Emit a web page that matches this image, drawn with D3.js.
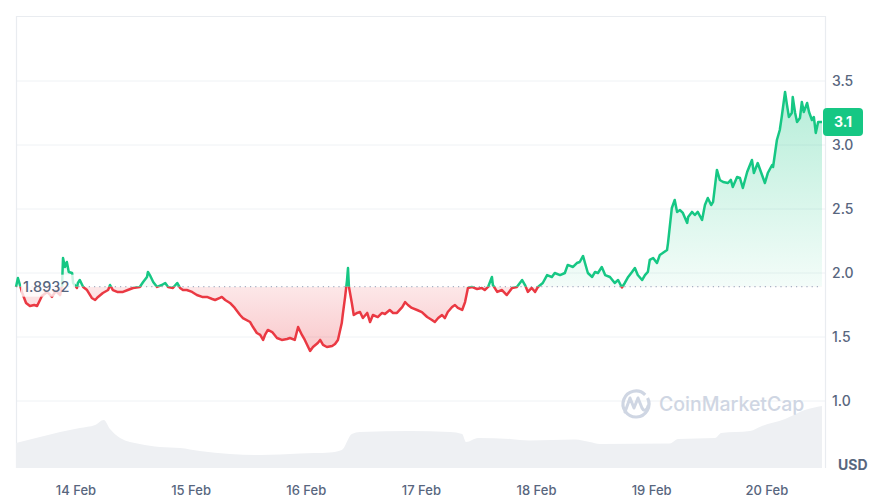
<!DOCTYPE html>
<html>
<head>
<meta charset="utf-8">
<script src="https://cdn.jsdelivr.net/npm/d3@7/dist/d3.min.js"></script>
<style>
  html, body { margin: 0; padding: 0; background: #ffffff; }
  svg { display: block; font-family: Inter, "Noto Sans", sans-serif; }
</style>
</head>
<body>
<svg id="chart" width="886" height="501"></svg>
<script>
// ---------- DATA ----------
const startTime = "2023-02-13T11:30:00Z";   // first sample
const spanHours = 168;
const baselinePrice = 1.8932;
const lastPriceLabel = "3.1";
const yTickValues = [1.0, 1.5, 2.0, 2.5, 3.0, 3.5];
const xTickDates = ["2023-02-14", "2023-02-15", "2023-02-16", "2023-02-17", "2023-02-18", "2023-02-19", "2023-02-20"];
const xTickLabels = ["14 Feb", "15 Feb", "16 Feb", "17 Feb", "18 Feb", "19 Feb", "20 Feb"];

// price samples: hours since start, price in USD
const hours = [0,0.4,1.3,2.1,2.9,3.8,4.4,5.4,6.5,7.5,8.3,9.2,9.6,9.8,10.2,10.6,11.0,11.7,11.9,12.7,12.9,13.3,14.0,14.8,15.8,16.5,17.1,18.1,19.2,19.6,20.2,21.1,22.3,23.3,24.4,25.8,26.5,27.3,27.5,27.9,28.6,29.4,30.4,31.1,31.7,32.7,33.6,34.2,34.8,35.6,36.7,37.7,38.8,39.8,40.9,41.5,42.5,42.9,43.6,44.6,45.6,46.7,47.3,48.8,49.4,50.2,50.9,51.5,51.9,52.5,53.4,54.4,55.4,56.5,57.1,58.1,58.8,59.6,60.2,60.9,61.3,61.9,62.9,63.4,64.0,64.8,65.9,66.5,67.1,67.9,68.1,68.6,69.0,69.2,69.4,70.0,70.4,71.1,71.7,72.3,73.2,73.8,74.4,75.4,76.3,76.9,77.9,78.6,79.4,80.5,81.1,81.7,82.5,83.6,84.6,85.7,86.7,87.3,88.0,88.8,89.4,90.0,90.9,91.5,92.1,93.0,93.6,94.2,95.0,96.1,97.1,97.7,98.4,99.2,99.4,100.3,101.3,102.3,103.4,104.4,105.5,106.1,106.7,107.5,108.2,108.8,109.8,110.7,111.7,112.3,113.4,114.4,115.0,116.1,116.9,117.5,118.2,118.6,119.2,120.1,120.7,121.3,122.1,122.8,123.8,124.8,125.5,126.3,126.9,127.6,128.4,129.0,129.6,130.5,131.1,131.7,132.1,132.8,133.6,134.2,134.8,135.7,135.9,136.7,137.3,137.8,138.4,139.0,139.9,140.1,140.9,141.5,142.1,143.0,143.6,144.2,144.9,145.3,146.1,146.7,147.4,148.4,149.0,149.4,150.3,150.9,151.5,152.4,153.4,153.8,154.6,155.5,156.1,156.7,157.6,157.8,158.6,159.2,159.6,160.3,160.7,161.1,161.7,161.9,162.4,162.8,163.4,163.8,164.2,164.9,165.3,165.9,166.3,166.7,167.2,168];
const prices = [1.891,1.961,1.844,1.766,1.742,1.750,1.742,1.820,1.852,1.813,1.859,1.828,1.906,2.117,2.047,2.086,2.008,2.000,1.922,1.883,1.922,1.945,1.891,1.867,1.805,1.789,1.813,1.844,1.867,1.906,1.867,1.852,1.852,1.867,1.883,1.891,1.930,1.969,2.008,1.984,1.930,1.891,1.906,1.922,1.891,1.883,1.922,1.883,1.867,1.867,1.852,1.828,1.813,1.813,1.797,1.789,1.805,1.813,1.789,1.766,1.727,1.672,1.648,1.617,1.578,1.531,1.516,1.477,1.516,1.555,1.539,1.492,1.477,1.484,1.492,1.477,1.578,1.516,1.477,1.422,1.391,1.422,1.453,1.477,1.438,1.422,1.430,1.445,1.477,1.609,1.672,1.813,1.945,2.039,1.891,1.766,1.672,1.688,1.695,1.648,1.688,1.617,1.672,1.656,1.688,1.680,1.711,1.688,1.688,1.734,1.773,1.750,1.727,1.711,1.695,1.656,1.633,1.617,1.648,1.672,1.648,1.695,1.734,1.750,1.727,1.711,1.773,1.883,1.891,1.875,1.883,1.867,1.891,1.969,1.906,1.852,1.867,1.828,1.883,1.891,1.945,1.906,1.852,1.883,1.852,1.891,1.922,1.984,1.969,2.000,1.984,2.000,2.063,2.047,2.078,2.086,2.133,2.078,2.000,1.969,2.008,2.000,2.047,1.984,1.969,1.922,1.945,1.887,1.922,1.969,2.008,2.039,1.984,1.945,1.984,2.008,2.102,2.117,2.078,2.141,2.156,2.180,2.234,2.508,2.570,2.477,2.492,2.469,2.391,2.438,2.477,2.453,2.477,2.414,2.531,2.586,2.531,2.555,2.805,2.727,2.711,2.703,2.727,2.672,2.750,2.742,2.664,2.789,2.883,2.781,2.859,2.766,2.703,2.781,2.844,2.828,3.039,3.117,3.219,3.414,3.313,3.219,3.250,3.375,3.250,3.180,3.211,3.336,3.258,3.328,3.258,3.195,3.219,3.094,3.180,3.180];

// volume samples (millions USD)
const volumeHours = [0,5,9.2,13.3,16.5,18.3,19.6,21.7,25.8,30,34.2,38.3,44.6,50.9,59.2,65.4,67.9,70,71.7,82.1,90.5,93,93.8,96.3,103,107,116.5,119.6,121.7,136.3,138,145.7,147,153,155.5,160.3,164.4,168];
const volumes = [250,310,360,400,430,480,390,300,240,210,200,170,140,130,145,155,180,340,360,370,360,340,260,300,290,275,285,260,240,245,290,300,350,370,420,490,580,620];

// ---------- CHART ----------
const svg = d3.select("#chart");
const W = 886, H = 501;
const plot = { left: 16, right: 826, top: 16, bottom: 468 };
const lineRight = 822;

const t0 = new Date(startTime);
const toDate = h => new Date(t0.getTime() + h * 3600e3);

const x = d3.scaleUtc()
  .domain([t0, toDate(spanHours)])
  .range([plot.left, lineRight]);
const y = d3.scaleLinear().domain([1.0, 3.5]).range([401, 81]);
const yVol = d3.scaleLinear().domain([0, 1000]).range([plot.bottom, plot.bottom - 100]);

const priceData = hours.map((h, i) => ({ t: toDate(h), v: prices[i] }));
const volData = volumeHours.map((h, i) => ({ t: toDate(h), v: volumes[i] }));
const yBase = y(baselinePrice);

const GREEN = "#16c784", RED = "#ea3943";

const defs = svg.append("defs");
const gGreen = defs.append("linearGradient").attr("id", "gGreen")
  .attr("gradientUnits", "userSpaceOnUse").attr("x1", 0).attr("x2", 0)
  .attr("y1", y(3.45)).attr("y2", yBase);
gGreen.append("stop").attr("offset", 0).attr("stop-color", GREEN).attr("stop-opacity", 0.32);
gGreen.append("stop").attr("offset", 1).attr("stop-color", GREEN).attr("stop-opacity", 0.05);
const gRed = defs.append("linearGradient").attr("id", "gRed")
  .attr("gradientUnits", "userSpaceOnUse").attr("x1", 0).attr("x2", 0)
  .attr("y1", yBase).attr("y2", y(1.38));
gRed.append("stop").attr("offset", 0).attr("stop-color", RED).attr("stop-opacity", 0.12);
gRed.append("stop").attr("offset", 1).attr("stop-color", RED).attr("stop-opacity", 0.28);

defs.append("clipPath").attr("id", "clipAbove").append("rect")
  .attr("x", 0).attr("y", 0).attr("width", W).attr("height", yBase);
defs.append("clipPath").attr("id", "clipBelow").append("rect")
  .attr("x", 0).attr("y", yBase).attr("width", W).attr("height", H - yBase);

// grid lines
svg.append("g").selectAll("line").data(yTickValues).join("line")
  .attr("x1", plot.left).attr("x2", plot.right)
  .attr("y1", d => y(d)).attr("y2", d => y(d))
  .attr("stroke", "#eff2f5").attr("stroke-width", 1);

// frame
svg.append("path")
  .attr("d", `M${plot.left + 0.5},${plot.bottom}V${plot.top + 0.5}H${plot.right - 0.5}V${plot.bottom}`)
  .attr("fill", "none").attr("stroke", "#e9ecf0").attr("stroke-width", 1.2);

// volume area
const volArea = d3.area().x(d => x(d.t)).y0(plot.bottom).y1(d => yVol(d.v)).curve(d3.curveMonotoneX);
svg.append("path").datum(volData).attr("d", volArea).attr("fill", "#eef0f3");

// watermark
const wm = svg.append("g").attr("fill", "none").attr("stroke", "#cfd6e3");
wm.append("path")
  .attr("d", d3.arc()({ innerRadius: 13, outerRadius: 13, startAngle: 0.35 * Math.PI, endAngle: 2.25 * Math.PI }))
  .attr("transform", "translate(636,404)").attr("stroke-width", 3.2).attr("stroke-linecap", "round");
wm.append("path")
  .attr("d", "M625,412 L630,398 L634,408 L638,398 L642,408 C644,412 647,410 648,406")
  .attr("stroke-width", 3).attr("stroke-linejoin", "round").attr("stroke-linecap", "round");
svg.append("text").attr("x", 659).attr("y", 411)
  .attr("font-size", 19.5).attr("font-weight", 500).attr("fill", "#cfd6e3")
  .text("CoinMarketCap");

// price fills
const areaAbove = d3.area().x(d => x(d.t)).y0(yBase).y1(d => y(d.v));
svg.append("path").datum(priceData).attr("d", areaAbove)
  .attr("fill", "url(#gGreen)").attr("clip-path", "url(#clipAbove)");
svg.append("path").datum(priceData).attr("d", areaAbove)
  .attr("fill", "url(#gRed)").attr("clip-path", "url(#clipBelow)");

// baseline dotted
svg.append("line").attr("x1", plot.left).attr("x2", lineRight)
  .attr("y1", yBase).attr("y2", yBase)
  .attr("stroke", "#a6b0c3").attr("stroke-width", 1.2).attr("stroke-dasharray", "1.2,4");

// price lines
const line = d3.line().x(d => x(d.t)).y(d => y(d.v));
svg.append("path").datum(priceData).attr("d", line)
  .attr("fill", "none").attr("stroke", GREEN).attr("stroke-width", 2.5)
  .attr("stroke-linejoin", "round").attr("clip-path", "url(#clipAbove)");
svg.append("path").datum(priceData).attr("d", line)
  .attr("fill", "none").attr("stroke", RED).attr("stroke-width", 2.5)
  .attr("stroke-linejoin", "round").attr("clip-path", "url(#clipBelow)");

// baseline label
svg.append("rect").attr("x", 21).attr("y", yBase - 12).attr("width", 54).attr("height", 22)
  .attr("fill", "#ffffff").attr("fill-opacity", 0.78);
svg.append("text").attr("x", 23).attr("y", yBase).attr("dy", "0.36em")
  .attr("font-size", 14.5).attr("font-weight", 500).attr("fill", "#58667e")
  .text(baselinePrice.toFixed(4));

// y-axis labels
svg.append("g").selectAll("text").data(yTickValues).join("text")
  .attr("x", 832).attr("y", d => y(d)).attr("dy", "0.36em")
  .attr("font-size", 14).attr("font-weight", 500).attr("fill", "#58667e")
  .text(d => d.toFixed(1));

// last price badge
const lastY = y(prices[prices.length - 1]);
svg.append("rect").attr("x", 823).attr("y", lastY - 14).attr("width", 40).attr("height", 28)
  .attr("rx", 4).attr("fill", GREEN);
svg.append("text").attr("x", 843).attr("y", lastY).attr("dy", "0.36em")
  .attr("text-anchor", "middle").attr("font-size", 14).attr("font-weight", 700).attr("fill", "#ffffff")
  .text(lastPriceLabel);

// USD
svg.append("text").attr("x", 838).attr("y", 465).attr("dy", "0.36em")
  .attr("font-size", 14).attr("font-weight", 700).attr("fill", "#58667e").text("USD");

// x-axis labels
svg.append("g").selectAll("text").data(xTickDates).join("text")
  .attr("x", d => x(new Date(d + "T00:00:00Z")))
  .attr("y", 490).attr("dy", "0.36em").attr("text-anchor", "middle")
  .attr("font-size", 13).attr("font-weight", 500).attr("fill", "#58667e")
  .text((d, i) => xTickLabels[i]);
</script>
</body>
</html>
